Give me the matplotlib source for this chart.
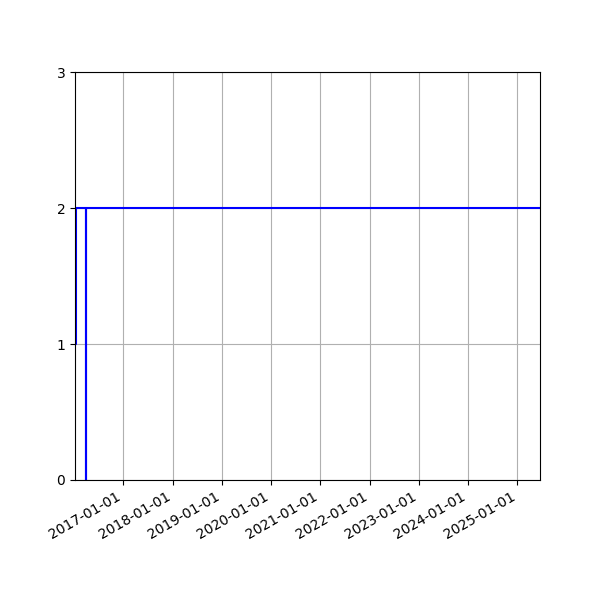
import numpy as np
import pandas as pd
import matplotlib
matplotlib.use("Agg")
import matplotlib.pyplot as plt
import matplotlib.dates as mdates

dates = pd.to_datetime(["2016-01-09", "2016-01-14", "2016-03-30", "2016-03-31", "2025-06-18"])
values = [1, 2, 0, 2, 2]

fig, ax = plt.subplots(figsize=(6, 6), dpi=100)
ax.plot(dates, values, color="b", drawstyle="steps-post")
ax.set_xlim(dates[0], dates[-1])
ax.set_ylim(0, 3)
ax.set_yticks([0, 1, 2, 3])
ax.xaxis.set_major_locator(mdates.YearLocator())
ax.xaxis.set_major_formatter(mdates.DateFormatter("%Y-%m-%d"))
ax.grid()
fig.autofmt_xdate()
fig.savefig("out.png")
